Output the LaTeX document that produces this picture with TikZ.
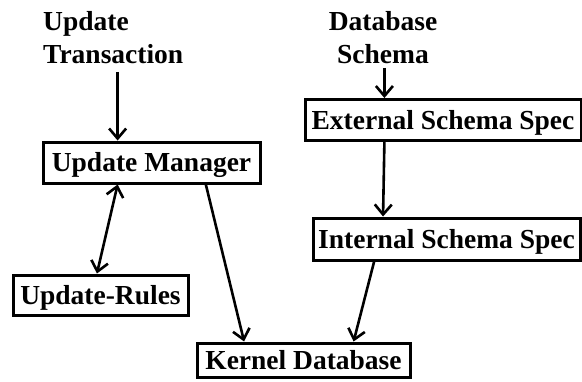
\documentclass[tikz,border=0pt]{standalone}
\usepackage{fontspec}
\setmainfont{Liberation Serif}
\usetikzlibrary{arrows.meta,calc}
\tikzset{
  lbl/.style={inner sep=0pt, font=\bfseries\fontsize{27.5}{33}\selectfont},
  box/.style={draw, line width=3pt, inner xsep=0pt, inner ysep=0pt,
    text height=18.5pt, text depth=0pt, minimum height=41pt,
    font=\bfseries\fontsize{27.5}{33}\selectfont},
  arr/.style={line width=2.6pt, -{Straight Barb[length=10pt,width=17pt,line width=2.6pt]}},
  darr/.style={line width=2.6pt, {Straight Barb[length=10pt,width=17pt,line width=2.6pt]}-{Straight Barb[length=10pt,width=17pt,line width=2.6pt]}}
}
\begin{document}
\begin{tikzpicture}[x=1pt,y=-1pt]
\useasboundingbox (0,0) rectangle (582,381);
% labels
\node[lbl, align=left, anchor=north west] (ut) at (43,11) {Update\\Transaction};
\node[lbl, align=center, anchor=north] (ds) at (383,11) {Database\\Schema};
% boxes
\node[box, minimum width=217pt] (um) at (151.5,162.5) {Update Manager};
\node[box, minimum width=276pt] (es) at (443,120) {External Schema Spec};
\node[box, minimum width=267pt, minimum height=42pt] (is) at (446.5,239) {Internal Schema Spec};
\node[box, minimum width=175pt, minimum height=40pt] (ur) at (100.5,295) {Update-Rules};
\node[box, minimum width=213pt, minimum height=34pt] (kd) at (303.5,360) {Kernel Database};
% attachment points
\coordinate (umT) at ($(um.north west)!0.346!(um.north east)$);
\coordinate (umB1) at ($(um.south west)!0.346!(um.south east)$);
\coordinate (umB2) at ($(um.south west)!0.747!(um.south east)$);
\coordinate (esT) at ($(es.north west)!0.29!(es.north east)$);
\coordinate (esB) at ($(es.south west)!0.29!(es.south east)$);
\coordinate (isT) at ($(is.north west)!0.265!(is.north east)$);
\coordinate (isB) at ($(is.south west)!0.232!(is.south east)$);
\coordinate (urT) at ($(ur.north west)!0.48!(ur.north east)$);
\coordinate (kdT1) at ($(kd.north west)!0.225!(kd.north east)$);
\coordinate (kdT2) at ($(kd.north west)!0.732!(kd.north east)$);
% connectors
\draw[arr] ([yshift=-8pt]ut.south -| umT) -- (umT);
\draw[arr] ([yshift=-4pt]ds.south -| esT) -- (esT);
\draw[arr] (esB) -- (isT);
\draw[arr] (isB) -- (kdT2);
\draw[arr] (umB2) -- (kdT1);
\draw[darr] (umB1) -- (urT);
\end{tikzpicture}
\end{document}
